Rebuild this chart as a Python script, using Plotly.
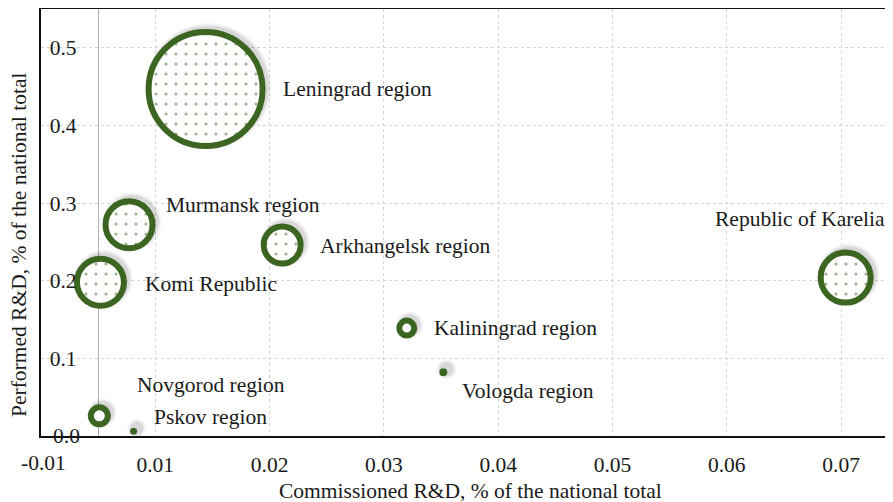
import numpy as np
import plotly.graph_objects as go

# ---------------- data ----------------
regions = ["Leningrad region", "Murmansk region", "Arkhangelsk region", "Komi Republic",
           "Republic of Karelia", "Kaliningrad region", "Vologda region",
           "Novgorod region", "Pskov region"]
commissioned = [0.0094, 0.0027, 0.0161, 0.0002, 0.0654, 0.0270, 0.0302, 0.0001, 0.0031]
performed = [0.447, 0.272, 0.246, 0.198, 0.204, 0.139, 0.082, 0.026, 0.006]
bubble_size = [114, 47, 37, 47, 50, 15, 8, 17, 7]

x_tickvals = [-0.005, 0.005, 0.015, 0.025, 0.035, 0.045, 0.055, 0.065]
x_ticktext = ["-0.01", "0.01", "0.02", "0.03", "0.04", "0.05", "0.06", "0.07"]
y_tickvals = [0.1, 0.2, 0.3, 0.4, 0.5]
y_ticktext = ["0.1", "0.2", "0.3", "0.4", "0.5"]
y_zero_label = "0.0"

# ---------------- layout / style ----------------
OFF = 8  # page body margin
W, H = 893 - OFF, 502 - OFF
ML, MR, MT, MB = 41 - OFF, 0, 9 - OFF, 66
PW, PH = W - ML - MR, H - MT - MB
X_RANGE = [-0.0050005, -0.005 + PW / 11430.0]
Y_RANGE = [0.0, 0.55]
px_x = PW / (X_RANGE[1] - X_RANGE[0])
px_y = PH / (Y_RANGE[1] - Y_RANGE[0])

GREEN = "#3b6520"
BORDER = 6
FONT = "Liberation Serif"
FS = 21.5
TXT = "#1a1a1a"

# label offsets (pixels) and anchors
label_dx = [75, 35, 36, 43, -46, 25, 17, 36, 18]
label_dy = [0, 20, -1, -2, 59, 0, -19, 31, 14]
label_anchor = ["left", "left", "left", "left", "center", "left", "left", "left", "left"]

fig = go.Figure()

# soft shadow (offset up-right)
for blur, alpha in [(6, 0.035), (3, 0.05), (0, 0.07)]:
    fig.add_trace(go.Scatter(
        x=[c + 3 / px_x for c in commissioned],
        y=[p + 3 / px_y for p in performed],
        mode="markers", hoverinfo="skip", showlegend=False,
        marker=dict(size=[s + BORDER + blur for s in bubble_size], opacity=1,
                    color=f"rgba(0,0,0,{alpha})", line=dict(width=0)),
    ))

# white bubble bodies
fig.add_trace(go.Scatter(
    x=commissioned, y=performed, mode="markers", hoverinfo="skip", showlegend=False,
    marker=dict(size=bubble_size, color="white", opacity=1, line=dict(width=0)),
))

# dotted pattern inside larger bubbles
theta = np.linspace(0, 2 * np.pi, 80)
for cx, cy, s in zip(commissioned, performed, bubble_size):
    if s < 30:
        continue
    r = s / 2.0 - 1
    fig.add_trace(go.Scatter(
        x=cx + r * np.cos(theta) / px_x, y=cy + r * np.sin(theta) / px_y,
        mode="lines", fill="toself", line=dict(width=0), hoverinfo="skip",
        showlegend=False, fillcolor="white",
        fillpattern=dict(shape=".", fgcolor=GREEN, bgcolor="white", size=10, solidity=0.08),
    ))

# bubble outlines (small ones solid)
line_w = [BORDER if s > 12 else 0 for s in bubble_size]
fill_c = ["rgba(0,0,0,0)" if s > 12 else GREEN for s in bubble_size]
fig.add_trace(go.Scatter(
    x=commissioned, y=performed, mode="markers", showlegend=False,
    text=regions, hovertemplate="%{text}<br>%{x}, %{y}<extra></extra>",
    marker=dict(size=bubble_size, color=fill_c, opacity=1,
                line=dict(width=line_w, color=GREEN)),
))

annotations = []
for name, cx, cy, dx, dy, anc in zip(regions, commissioned, performed, label_dx, label_dy, label_anchor):
    annotations.append(dict(x=cx, y=cy, xref="x", yref="y", text=name, showarrow=False,
                            xanchor=anc, yanchor="middle", xshift=dx, yshift=dy,
                            font=dict(family=FONT, size=FS, color=TXT)))
# first x tick label (at the plot's left edge, which plotly drops)
annotations.append(dict(x=x_tickvals[0], y=0, xref="x", yref="paper", text=x_ticktext[0],
                        showarrow=False, xanchor="center", yanchor="middle", xshift=2, yshift=-27,
                        font=dict(family=FONT, size=FS, color=TXT)))
# zero tick label on the y axis (kept inside the plot like the other labels)
annotations.append(dict(x=0, y=0, xref="paper", yref="y", text=y_zero_label, showarrow=False,
                        xanchor="left", yanchor="middle", xshift=10,
                        font=dict(family=FONT, size=FS, color=TXT)))
annotations.append(dict(x=(470 - 41) / PW, y=-(491 - 436) / PH, xref="paper", yref="paper",
                        text="Commissioned R&D, % of the national total", showarrow=False,
                        xanchor="center", yanchor="middle",
                        font=dict(family=FONT, size=FS, color=TXT)))
annotations.append(dict(x=(19 - 41) / PW, y=(436 - 245) / PH, xref="paper", yref="paper",
                        text="Performed R&D, % of the national total", showarrow=False,
                        textangle=-90, xanchor="center", yanchor="middle",
                        font=dict(family=FONT, size=FS, color=TXT)))

fig.update_layout(
    width=W, height=H,
    margin=dict(l=ML, r=MR, t=MT, b=MB, pad=0),
    paper_bgcolor="white", plot_bgcolor="white",
    showlegend=False,
    annotations=annotations,
    font=dict(family=FONT, size=FS, color=TXT),
    xaxis=dict(range=X_RANGE, tickvals=x_tickvals[1:], ticktext=x_ticktext[1:],
               showgrid=True, gridcolor="#d4d4d4", griddash="dot", gridwidth=1,
               zeroline=True, zerolinecolor="#b0b0b0", zerolinewidth=1,
               showline=True, linecolor="#111", linewidth=2, mirror=True,
               ticks="", ticklabelstandoff=8, ticklabeloverflow="allow",
               tickfont=dict(family=FONT, size=FS, color=TXT)),
    yaxis=dict(range=Y_RANGE, tickvals=y_tickvals, ticktext=y_ticktext,
               showgrid=True, gridcolor="#d4d4d4", griddash="dot", gridwidth=1,
               zeroline=False,
               showline=True, linecolor="#111", linewidth=2,
               ticks="", ticklabelposition="inside", ticklabelstandoff=10,
               tickfont=dict(family=FONT, size=FS, color=TXT)),
)

fig.write_html("out.html")
